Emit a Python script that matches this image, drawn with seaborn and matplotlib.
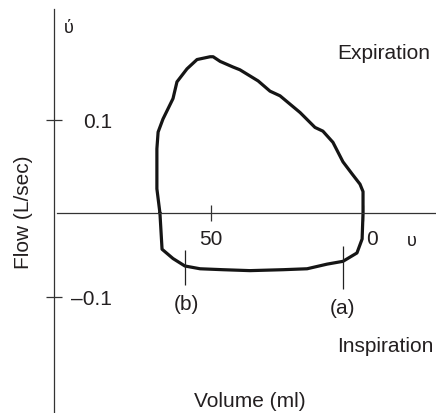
import matplotlib
matplotlib.use("Agg")
import matplotlib.pyplot as plt
import matplotlib.transforms as mtransforms
import seaborn as sns
import pandas as pd
import numpy as np

# ---- data ----
volume_ml = [66.8, 67.8, 67.8, 67.4, 65.8, 62.5, 61.2, 57.9, 54.6, 50.3, 49.3,
             47.0, 42.8, 40.5, 34.5, 30.6, 27.3, 20.7, 15.8, 13.2, 9.9, 6.6,
             3.6, 1.0, 0.0, 0.0, 0.3, 2.0, 6.6, 11.8, 18.4, 26.3, 37.2, 46.1,
             53.6, 58.6, 62.5, 66.1, 66.8]
flow_lps = [0.000, 0.026, 0.069, 0.087, 0.101, 0.123, 0.141, 0.155, 0.165,
            0.168, 0.168, 0.163, 0.157, 0.154, 0.142, 0.131, 0.126, 0.108,
            0.092, 0.088, 0.076, 0.055, 0.042, 0.031, 0.023, 0.000, -0.028,
            -0.043, -0.052, -0.055, -0.060, -0.061, -0.062, -0.061, -0.060,
            -0.057, -0.049, -0.039, 0.000]

marker_labels = ["(a)", "(b)"]
marker_volume = [6.6, 58.6]
marker_ymin = [-0.082, -0.077]
marker_ymax = [-0.035, -0.040]

xtick_pos = [50, 0]
xtick_labels = ["50", "0"]
ytick_pos = [0.1, -0.09]
ytick_labels = ["0.1", "\u20130.1"]

# ---- figure ----
sns.set_style("white")
plt.rcParams["font.family"] = ["Liberation Sans", "DejaVu Sans"]
ink = "#231f20"

fig = plt.figure(figsize=(4.36, 4.14), dpi=100)
ax = fig.add_axes([0, 0, 1, 1])

df = pd.DataFrame({"Volume": volume_ml, "Flow": flow_lps})
sns.lineplot(data=df, x="Volume", y="Flow", sort=False, estimator=None,
             color="#151515", lw=2.3, ax=ax)

ax.set_xlim(119.4, -24.0)
ax.set_ylim(-0.2151, 0.2301)

# axes as crossing lines
for s in ["top", "right"]:
    ax.spines[s].set_visible(False)
ax.spines["left"].set_position(("data", 101.6))
ax.spines["bottom"].set_position(("data", 0))
ax.spines["left"].set_bounds(-0.2151, 0.219)
ax.spines["bottom"].set_bounds(100.7, -24.0)
for s in ["left", "bottom"]:
    ax.spines[s].set_color("#333333")
    ax.spines[s].set_linewidth(0.9)

ax.set_xticks(xtick_pos)
ax.set_xticklabels(xtick_labels)
ax.set_yticks(ytick_pos)
ax.set_yticklabels(ytick_labels)
ax.tick_params(axis="both", direction="inout", length=11.5, width=0.9,
               color="#333333", labelsize=15, labelcolor=ink,
               bottom=True, left=True)
ax.tick_params(axis="y", pad=-47.5)
ax.tick_params(axis="x", pad=6)
# zero label sits a little right of the loop
lbl0 = ax.get_xticklabels()[1]
lbl0.set_transform(lbl0.get_transform() +
                   mtransforms.ScaledTranslation(9 / 100, 0, fig.dpi_scale_trans))

ax.set_xlabel("")
ax.set_ylabel("")

# (a), (b) markers
ax.vlines(marker_volume, marker_ymin, marker_ymax, color="#222222", lw=0.9)
for lab, xv, y0 in zip(marker_labels, marker_volume, marker_ymin):
    ax.text(xv + (0 if lab == "(a)" else -0.4), y0 - 0.02, lab, ha="center",
            va="center", fontsize=15, color=ink)

ax.text(-6.9, 0.173, "Expiration", ha="center", va="center", fontsize=15, color=ink)
ax.text(-7.2, -0.143, "Inspiration", ha="center", va="center", fontsize=15, color=ink)
ax.text(37.2, -0.202, "Volume (ml)", ha="center", va="center", fontsize=15, color=ink)
ax.text(111.8, 0.002, "Flow (L/sec)", ha="center", va="center", rotation=90,
        fontsize=15, color=ink)
ax.text(96.7, 0.199, "\u03cd", ha="center", va="center", fontsize=13, color=ink)
ax.text(-16.1, -0.030, "\u03c5", ha="center", va="center", fontsize=13, color=ink)

fig.savefig("out.png", dpi=100)
